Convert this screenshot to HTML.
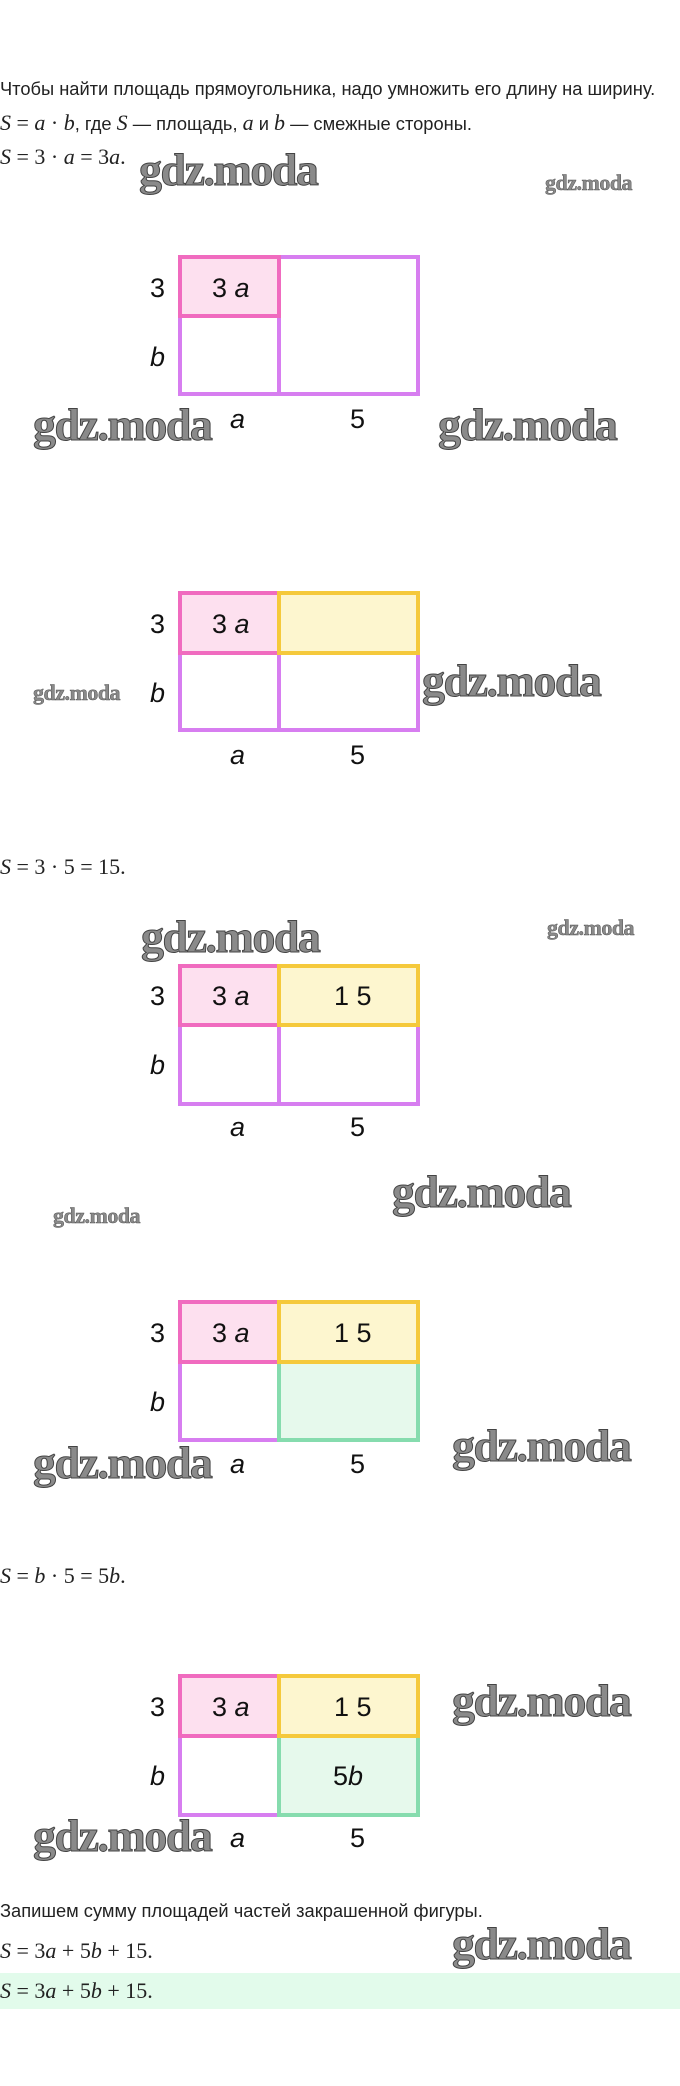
<!DOCTYPE html>
<html><head><meta charset="utf-8"><style>
html,body{margin:0;padding:0;background:#fff;}
body{width:680px;height:2086px;position:relative;overflow:hidden;}
svg{position:absolute;left:0;top:0;}
.t{font-family:"Liberation Sans",sans-serif;font-size:18.3px;fill:#222;}
.m{font-family:"Liberation Serif",serif;font-size:22px;fill:#222;}
.mi{font-style:italic;}
.l{font-family:"Liberation Sans",sans-serif;font-size:27px;fill:#111;font-weight:500;}
.wb{font-family:"Liberation Serif",serif;font-weight:bold;font-size:46px;fill:#8a8a8a;stroke:#444;stroke-width:1;letter-spacing:-1.5px;}
.ws{font-family:"Liberation Serif",serif;font-weight:bold;font-size:22px;fill:#8a8a8a;stroke:#555;stroke-width:0.5;letter-spacing:-0.5px;}
</style></head><body>
<svg width="680" height="2086" viewBox="0 0 680 2086">
<rect x="0" y="1973" width="680" height="36" fill="#e2fbeb"/>
<text class="t" x="0" y="95">Чтобы найти площадь прямоугольника, надо умножить его длину на ширину.</text>
<text class="m" x="0" y="130"><tspan class="mi">S</tspan> = <tspan class="mi">a</tspan> · <tspan class="mi">b</tspan><tspan class="t" font-size="18">, где </tspan><tspan class="mi">S</tspan><tspan class="t" font-size="18"> — площадь, </tspan><tspan class="mi">a</tspan><tspan class="t" font-size="18"> и </tspan><tspan class="mi">b</tspan><tspan class="t" font-size="18"> — смежные стороны.</tspan></text>
<text class="m" x="0" y="164"><tspan class="mi">S</tspan> = 3 · <tspan class="mi">a</tspan> = 3<tspan class="mi">a</tspan>.</text>
<text class="m" x="0" y="874"><tspan class="mi">S</tspan> = 3 · 5 = 15.</text>
<text class="m" x="0" y="1583"><tspan class="mi">S</tspan> = <tspan class="mi">b</tspan> · 5 = 5<tspan class="mi">b</tspan>.</text>
<text class="t" x="0" y="1917">Запишем сумму площадей частей закрашенной фигуры.</text>
<text class="m" x="0" y="1958"><tspan class="mi">S</tspan> = 3<tspan class="mi">a</tspan> + 5<tspan class="mi">b</tspan> + 15.</text>
<text class="m" x="0" y="1998"><tspan class="mi">S</tspan> = 3<tspan class="mi">a</tspan> + 5<tspan class="mi">b</tspan> + 15.</text>

<g stroke-width="4" fill="none">
<rect x="180" y="257" width="238" height="137" stroke="#d77ef0"/>
<line x1="279" y1="257" x2="279" y2="394" stroke="#d77ef0"/>
<rect x="180" y="257" width="99" height="59" stroke="#f06bbf" fill="#fde0ef"/>
</g>
<text class="l" x="150" y="297">3</text><text class="l" x="212" y="297">3 <tspan font-style="italic">a</tspan></text>
<text class="l mi" x="150" y="366" font-style="italic">b</text>
<text class="l" x="230" y="428" font-style="italic">a</text><text class="l" x="350" y="428">5</text>

<g stroke-width="4" fill="none">
<rect x="180" y="593" width="238" height="137" stroke="#d77ef0"/>
<line x1="279" y1="593" x2="279" y2="730" stroke="#d77ef0"/>
<rect x="180" y="593" width="99" height="60" stroke="#f06bbf" fill="#fde0ef"/>
<rect x="279" y="593" width="139" height="60" stroke="#f5c93b" fill="#fdf6cf"/>
</g>
<text class="l" x="150" y="633">3</text><text class="l" x="212" y="633">3 <tspan font-style="italic">a</tspan></text>
<text class="l" x="150" y="702" font-style="italic">b</text>
<text class="l" x="230" y="764" font-style="italic">a</text><text class="l" x="350" y="764">5</text>

<g stroke-width="4" fill="none">
<rect x="180" y="966" width="238" height="138" stroke="#d77ef0"/>
<line x1="279" y1="966" x2="279" y2="1104" stroke="#d77ef0"/>
<rect x="180" y="966" width="99" height="59" stroke="#f06bbf" fill="#fde0ef"/>
<rect x="279" y="966" width="139" height="59" stroke="#f5c93b" fill="#fdf6cf"/>
</g>
<text class="l" x="150" y="1005">3</text><text class="l" x="212" y="1005">3 <tspan font-style="italic">a</tspan></text>
<text class="l" x="334" y="1005">1 5</text>
<text class="l" x="150" y="1074" font-style="italic">b</text>
<text class="l" x="230" y="1136" font-style="italic">a</text><text class="l" x="350" y="1136">5</text>

<g stroke-width="4" fill="none">
<rect x="180" y="1302" width="238" height="138" stroke="#d77ef0"/>
<rect x="279" y="1362" width="139" height="78" stroke="#86dcae" fill="#e6f9ec"/>
<rect x="180" y="1302" width="99" height="60" stroke="#f06bbf" fill="#fde0ef"/>
<rect x="279" y="1302" width="139" height="60" stroke="#f5c93b" fill="#fdf6cf"/>
</g>
<text class="l" x="150" y="1342">3</text><text class="l" x="212" y="1342">3 <tspan font-style="italic">a</tspan></text>
<text class="l" x="334" y="1342">1 5</text>
<text class="l" x="150" y="1411" font-style="italic">b</text>
<text class="l" x="230" y="1473" font-style="italic">a</text><text class="l" x="350" y="1473">5</text>

<g stroke-width="4" fill="none">
<rect x="180" y="1676" width="238" height="139" stroke="#d77ef0"/>
<rect x="279" y="1736" width="139" height="79" stroke="#86dcae" fill="#e6f9ec"/>
<rect x="180" y="1676" width="99" height="60" stroke="#f06bbf" fill="#fde0ef"/>
<rect x="279" y="1676" width="139" height="60" stroke="#f5c93b" fill="#fdf6cf"/>
</g>
<text class="l" x="150" y="1716">3</text><text class="l" x="212" y="1716">3 <tspan font-style="italic">a</tspan></text>
<text class="l" x="334" y="1716">1 5</text>
<text class="l" x="150" y="1785" font-style="italic">b</text>
<text class="l" x="333" y="1785">5<tspan font-style="italic">b</tspan></text>
<text class="l" x="230" y="1847" font-style="italic">a</text><text class="l" x="350" y="1847">5</text>

<text class="wb" x="139" y="185">gdz.moda</text>
<text class="ws" x="545" y="190">gdz.moda</text>
<text class="wb" x="33" y="440">gdz.moda</text>
<text class="wb" x="438" y="440">gdz.moda</text>
<text class="ws" x="33" y="700">gdz.moda</text>
<text class="wb" x="422" y="696">gdz.moda</text>
<text class="wb" x="141" y="952">gdz.moda</text>
<text class="ws" x="547" y="935">gdz.moda</text>
<text class="ws" x="53" y="1223">gdz.moda</text>
<text class="wb" x="392" y="1207">gdz.moda</text>
<text class="wb" x="33" y="1478">gdz.moda</text>
<text class="wb" x="452" y="1461">gdz.moda</text>
<text class="wb" x="452" y="1716">gdz.moda</text>
<text class="wb" x="33" y="1851">gdz.moda</text>
<text class="wb" x="452" y="1959">gdz.moda</text>
</svg>
</body></html>
